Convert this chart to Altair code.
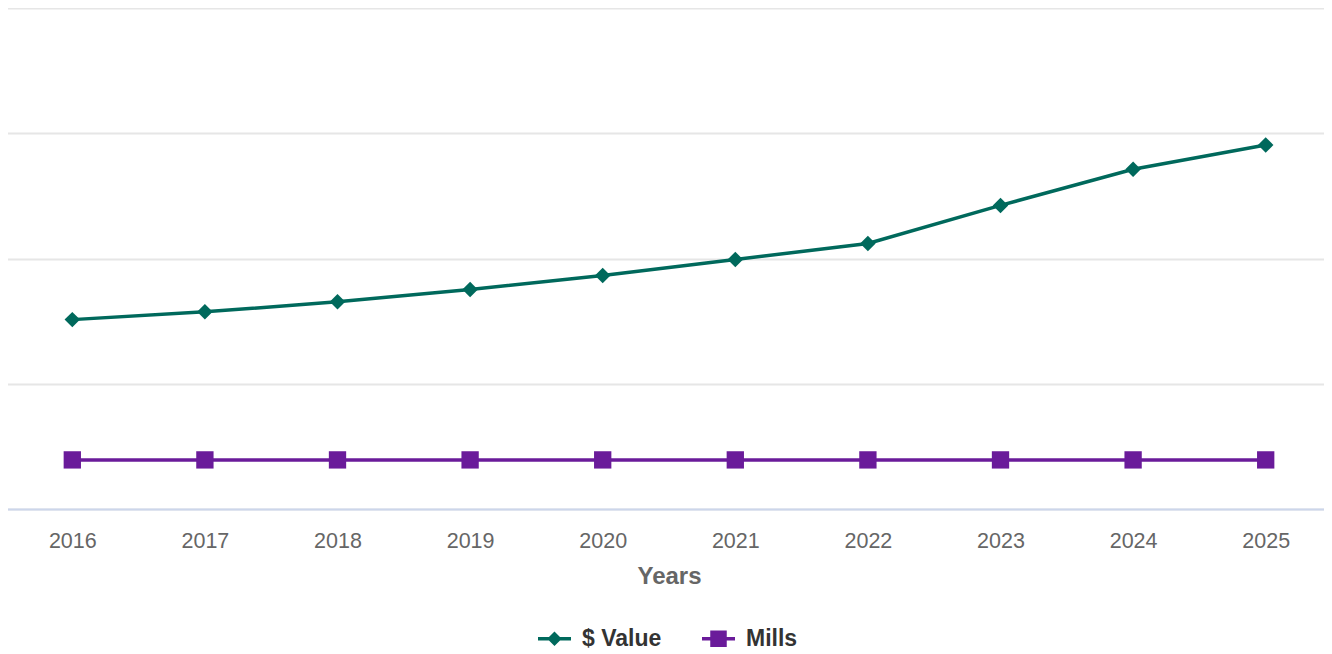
import altair as alt
import pandas as pd

years = ["2016", "2017", "2018", "2019", "2020", "2021", "2022", "2023", "2024", "2025"]
value_series = [1.512, 1.574, 1.654, 1.752, 1.864, 1.992, 2.12, 2.424, 2.712, 2.906]
mills_series = [0.392, 0.392, 0.392, 0.392, 0.392, 0.392, 0.392, 0.392, 0.392, 0.392]
series_names = ["$ Value", "Mills"]
series_colors = ["#00695c", "#6a1b9a"]
grid_values = [0, 1, 2, 3, 4]

# legend symbols: line segment with marker (custom SVG paths)
legend_shapes = [
    "M-1,-0.1H1V0.1H-1ZM0,-0.44L0.44,0L0,0.44L-0.44,0Z",
    "M-1,-0.1H1V0.1H-1ZM-0.5,-0.5H0.5V0.5H-0.5Z",
]

df = pd.DataFrame({
    "Year": years + years,
    "Series": [series_names[0]] * len(years) + [series_names[1]] * len(years),
    "Amount": value_series + mills_series,
})

FONT = "Liberation Sans"
color_scale = alt.Scale(domain=series_names, range=series_colors)

x_enc = alt.X(
    "Year:O",
    title="Years",
    sort=years,
    scale=alt.Scale(type="point", padding=0.5),
    axis=alt.Axis(
        labelAngle=0,
        labelFont=FONT,
        labelFontSize=21.5,
        labelColor="#666666",
        labelPadding=21,
        ticks=False,
        grid=False,
        domainColor="#ccd6eb",
        domainWidth=2,
        titleFont=FONT,
        titleFontSize=24,
        titleFontWeight="bold",
        titleColor="#666666",
        titlePadding=13,
    ),
)
y_enc = alt.Y(
    "Amount:Q",
    scale=alt.Scale(domain=[0, 4], nice=False, zero=True),
    axis=alt.Axis(
        values=grid_values,
        labels=False,
        ticks=False,
        domain=False,
        title=None,
        grid=True,
        gridColor="#e6e6e6",
        gridWidth=2,
    ),
)

base = alt.Chart(df).encode(x=x_enc, y=y_enc)

legend_props = dict(
    orient="none",
    legendX=532,
    legendY=614,
    direction="horizontal",
    title=None,
    labelFont=FONT,
    labelFontSize=23,
    labelFontWeight="bold",
    labelColor="#333333",
    labelOffset=11,
    columnPadding=40,
    symbolSize=1089,
    symbolStrokeWidth=0,
    symbolOpacity=1,
    labelLimit=400,
)
legend_layer = base.mark_point(filled=True, opacity=0).encode(
    color=alt.Color("Series:N", scale=color_scale, legend=alt.Legend(**legend_props)),
    shape=alt.Shape(
        "Series:N",
        scale=alt.Scale(domain=series_names, range=legend_shapes),
        legend=alt.Legend(**legend_props),
    ),
)

lines = base.mark_line(strokeWidth=3.5).encode(
    color=alt.Color("Series:N", scale=color_scale, legend=None)
)
diamonds = base.transform_filter(alt.datum.Series == series_names[0]).mark_point(
    shape="diamond", filled=True, size=240, opacity=1
).encode(color=alt.Color("Series:N", scale=color_scale, legend=None))
squares = base.transform_filter(alt.datum.Series == series_names[1]).mark_point(
    shape="square", filled=True, size=300, opacity=1
).encode(color=alt.Color("Series:N", scale=color_scale, legend=None))

chart = alt.layer(legend_layer, lines, diamonds, squares).properties(
    width=1326,
    height=501,
    padding={"left": -2, "top": 0, "right": -8, "bottom": 0},
    background="white",
).configure_view(stroke=None)

chart.save("out.html", embed_options={"renderer": "svg", "actions": False})
